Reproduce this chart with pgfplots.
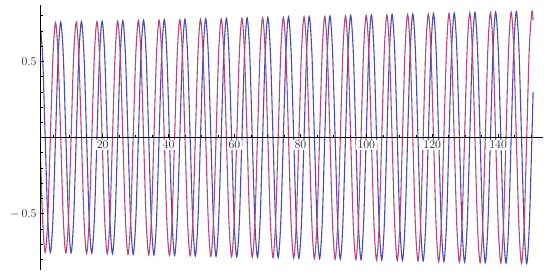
\documentclass[border=0pt]{standalone}
\usepackage{pgfplots}
\usepackage{pgfplotstable}
\pgfplotsset{compat=1.18}

\definecolor{mblue}{RGB}{75,75,180}
\definecolor{mred}{RGB}{178,72,128}

% x, first curve (blue), second curve (red)
\pgfplotstableread{
x b r
1.00 0.755 0
1.79 0.534 -0.534
2.57 0 -0.755
3.36 -0.534 -0.534
4.14 -0.755 0
4.93 -0.534 0.534
5.71 0 0.755
6.50 0.534 0.534
7.28 0.758 0
8.07 0.536 -0.536
8.85 0 -0.758
9.64 -0.536 -0.536
10.43 -0.758 0
11.21 -0.536 0.536
12.00 0 0.758
12.78 0.536 0.536
13.57 0.761 0
14.35 0.538 -0.538
15.14 0 -0.761
15.92 -0.538 -0.538
16.71 -0.761 0
17.49 -0.538 0.538
18.28 0 0.761
19.06 0.538 0.538
19.85 0.764 0
20.63 0.540 -0.540
21.42 0 -0.764
22.21 -0.540 -0.540
22.99 -0.764 0
23.78 -0.540 0.540
24.56 0 0.764
25.35 0.540 0.540
26.13 0.768 0
26.92 0.543 -0.543
27.70 0 -0.768
28.49 -0.543 -0.543
29.27 -0.768 0
30.06 -0.543 0.543
30.85 0 0.768
31.63 0.543 0.543
32.42 0.771 0
33.20 0.545 -0.545
33.99 0 -0.771
34.77 -0.545 -0.545
35.56 -0.771 0
36.34 -0.545 0.545
37.13 0 0.771
37.91 0.545 0.545
38.70 0.774 0
39.48 0.547 -0.547
40.27 0 -0.774
41.06 -0.547 -0.547
41.84 -0.774 0
42.63 -0.547 0.547
43.41 0 0.774
44.20 0.547 0.547
44.98 0.777 0
45.77 0.549 -0.549
46.55 0 -0.777
47.34 -0.549 -0.549
48.12 -0.777 0
48.91 -0.549 0.549
49.69 0 0.777
50.48 0.549 0.549
51.27 0.780 0
52.05 0.552 -0.552
52.84 0 -0.780
53.62 -0.552 -0.552
54.41 -0.780 0
55.19 -0.552 0.552
55.98 0 0.780
56.76 0.552 0.552
57.55 0.783 0
58.33 0.554 -0.554
59.12 0 -0.783
59.90 -0.554 -0.554
60.69 -0.783 0
61.48 -0.554 0.554
62.26 0 0.783
63.05 0.554 0.554
63.83 0.786 0
64.62 0.556 -0.556
65.40 0 -0.786
66.19 -0.556 -0.556
66.97 -0.786 0
67.76 -0.556 0.556
68.54 0 0.786
69.33 0.556 0.556
70.12 0.789 0
70.90 0.558 -0.558
71.69 0 -0.789
72.47 -0.558 -0.558
73.26 -0.789 0
74.04 -0.558 0.558
74.83 0 0.789
75.61 0.558 0.558
76.40 0.793 0
77.18 0.561 -0.561
77.97 0 -0.793
78.75 -0.561 -0.561
79.54 -0.793 0
80.33 -0.561 0.561
81.11 0 0.793
81.90 0.561 0.561
82.68 0.796 0
83.47 0.563 -0.563
84.25 0 -0.796
85.04 -0.563 -0.563
85.82 -0.796 0
86.61 -0.563 0.563
87.39 0 0.796
88.18 0.563 0.563
88.96 0.799 0
89.75 0.565 -0.565
90.54 0 -0.799
91.32 -0.565 -0.565
92.11 -0.799 0
92.89 -0.565 0.565
93.68 0 0.799
94.46 0.565 0.565
95.25 0.802 0
96.03 0.567 -0.567
96.82 0 -0.802
97.60 -0.567 -0.567
98.39 -0.802 0
99.17 -0.567 0.567
99.96 0 0.802
100.75 0.567 0.567
101.53 0.805 0
102.32 0.569 -0.569
103.10 0 -0.805
103.89 -0.569 -0.569
104.67 -0.805 0
105.46 -0.569 0.569
106.24 0 0.805
107.03 0.569 0.569
107.81 0.808 0
108.60 0.571 -0.571
109.39 0 -0.808
110.17 -0.571 -0.571
110.96 -0.808 0
111.74 -0.571 0.571
112.53 0 0.808
113.31 0.571 0.571
114.10 0.811 0
114.88 0.573 -0.573
115.67 0 -0.811
116.45 -0.573 -0.573
117.24 -0.811 0
118.02 -0.573 0.573
118.81 0 0.811
119.60 0.573 0.573
120.38 0.815 0
121.17 0.576 -0.576
121.95 0 -0.815
122.74 -0.576 -0.576
123.52 -0.815 0
124.31 -0.576 0.576
125.09 0 0.815
125.88 0.576 0.576
126.66 0.818 0
127.45 0.578 -0.578
128.24 0 -0.818
129.02 -0.578 -0.578
129.81 -0.818 0
130.59 -0.578 0.578
131.38 0 0.818
132.16 0.578 0.578
132.95 0.821 0
133.73 0.581 -0.581
134.52 0 -0.821
135.30 -0.581 -0.581
136.09 -0.821 0
136.87 -0.581 0.581
137.66 0 0.821
138.45 0.581 0.581
139.23 0.824 0
140.02 0.583 -0.583
140.80 0 -0.824
141.59 -0.583 -0.583
142.37 -0.824 0
143.16 -0.583 0.583
143.94 0 0.824
144.73 0.583 0.583
145.51 0.827 0
146.30 0.585 -0.585
147.08 0 -0.827
147.87 -0.585 -0.585
148.66 -0.827 0
149.44 -0.585 0.585
150.23 0 0.827
150.60 0.30 0.77
}\curves

\begin{document}
\begin{tikzpicture}
\useasboundingbox (-40bp,-10bp) rectangle (510bp,270bp);
\begin{axis}[
  scale only axis,
  width=503bp, height=265bp,
  xmin=1, xmax=153.6,
  ymin=-0.87, ymax=0.87,
  axis x line=middle,
  axis y line=left,
  axis on top,
  axis line style={-, line width=0.5pt},
  tick align=inside,
  major tick length=4bp,
  minor tick length=2.5bp,
  xtick={20,40,...,140},
  minor xtick={5,10,...,150},
  ytick={-0.5,0.5},
  minor ytick={-0.8,-0.7,...,0.8},
  yticklabels={$-\,0.5$,$0.5$},
  tick style={black, line width=0.5pt},
  ticklabel style={font=\fontsize{12}{14}\selectfont, text=black!85},
  xticklabel style={fill=white, inner sep=1.5pt, yshift=-2bp},
]
\addplot[mblue, line width=1.1bp, smooth] table[x=x, y=b] {\curves};
\addplot[mred, line width=1.1bp, smooth] table[x=x, y=r] {\curves};
\end{axis}
\end{tikzpicture}
\end{document}
